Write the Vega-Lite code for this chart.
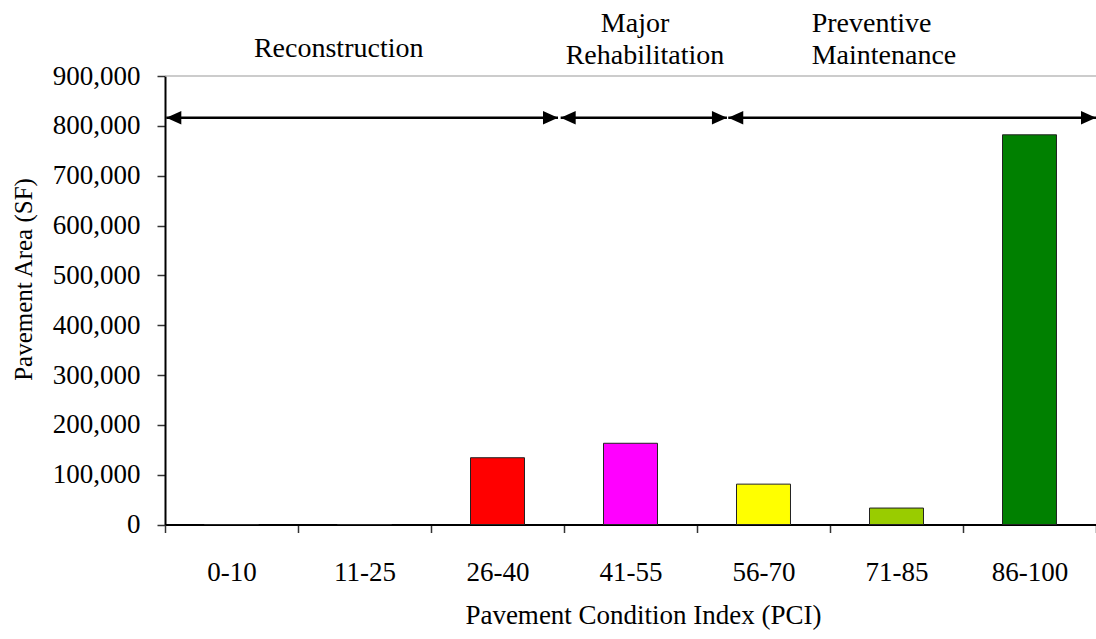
{
  "$schema": "https://vega.github.io/schema/vega-lite/v6.json",
  "width": 931,
  "height": 448.5,
  "autosize": {"type": "none"},
  "padding": {"left": 165, "top": 76, "right": 0, "bottom": 114.5},
  "background": "white",
  "config": {
    "view": {"stroke": null},
    "font": "Liberation Serif",
    "text": {"font": "Liberation Serif"}
  },
  "datasets": {
    "bars": [
      {"pci": "0-10", "area": 0},
      {"pci": "11-25", "area": 0},
      {"pci": "26-40", "area": 134000},
      {"pci": "41-55", "area": 163000},
      {"pci": "56-70", "area": 81000},
      {"pci": "71-85", "area": 33000},
      {"pci": "86-100", "area": 782000}
    ],
    "top": [{"v": 900000}],
    "arrows": [
      {"start": 0.01, "end": 2.955},
      {"start": 2.975, "end": 4.225},
      {"start": 4.235, "end": 7.0}
    ],
    "labelsCenter": [
      {"label": "Reconstruction", "u": 1.306, "v": 938000},
      {"label": "Major", "u": 3.534, "v": 989000},
      {"label": "Rehabilitation", "u": 3.609, "v": 923500}
    ],
    "labelsLeft": [
      {"label": "Preventive", "u": 4.862, "v": 989000},
      {"label": "Maintenance", "u": 4.862, "v": 923500}
    ]
  },
  "layer": [
    {
      "data": {"name": "bars"},
      "mark": {"type": "bar", "width": {"band": 0.406}, "stroke": "#222222", "strokeWidth": 1},
      "encoding": {
        "x": {
          "field": "pci", "type": "nominal", "sort": null,
          "scale": {"paddingInner": 0, "paddingOuter": 0},
          "axis": {
            "title": "Pavement Condition Index (PCI)",
            "labelAngle": 0,
            "labelFont": "Liberation Serif",
            "labelFontSize": 27,
            "labelColor": "black",
            "labelPadding": 27,
            "tickBand": "extent",
            "tickSize": 8,
            "tickColor": "#333333",
            "tickWidth": 1.5,
            "domainColor": "black",
            "domainWidth": 2,
            "grid": false,
            "titleFont": "Liberation Serif",
            "titleFontSize": 27,
            "titleFontWeight": "normal",
            "titleColor": "black",
            "titleX": 478,
            "titleY": 99,
            "titleBaseline": "alphabetic",
            "titleAlign": "center"
          }
        },
        "y": {
          "field": "area", "type": "quantitative",
          "scale": {"domain": [0, 900000], "nice": false},
          "axis": {
            "title": "Pavement Area (SF)",
            "values": [0, 100000, 200000, 300000, 400000, 500000, 600000, 700000, 800000, 900000],
            "format": ",.0f",
            "labelFont": "Liberation Serif",
            "labelFontSize": 27,
            "labelColor": "black",
            "labelPadding": 17,
            "tickSize": 8,
            "tickColor": "#333333",
            "tickWidth": 1.5,
            "domainColor": "black",
            "domainWidth": 2,
            "grid": false,
            "titleFont": "Liberation Serif",
            "titleFontSize": 25,
            "titleFontWeight": "normal",
            "titleColor": "black",
            "titleX": -134,
            "titleY": 203,
            "titleBaseline": "alphabetic",
            "titleAlign": "center",
            "titleAngle": -90
          }
        },
        "color": {
          "field": "pci", "type": "nominal",
          "scale": {
            "domain": ["0-10", "11-25", "26-40", "41-55", "56-70", "71-85", "86-100"],
            "range": ["#ffffff", "#ffffff", "#ff0000", "#ff00ff", "#ffff00", "#99cc00", "#008000"]
          },
          "legend": null
        }
      }
    },
    {
      "data": {"name": "top"},
      "mark": {"type": "rule", "color": "#999999", "strokeWidth": 1},
      "encoding": {
        "y": {"field": "v", "type": "quantitative", "scale": {"domain": [0, 900000], "nice": false}}
      }
    },
    {
      "data": {"name": "arrows"},
      "mark": {"type": "rule", "color": "black", "strokeWidth": 2.5},
      "encoding": {
        "x": {"field": "start", "type": "quantitative", "scale": {"domain": [0, 7], "nice": false, "zero": false}, "axis": null},
        "x2": {"field": "end"},
        "y": {"datum": 816000, "type": "quantitative", "scale": {"domain": [0, 900000], "nice": false}}
      }
    },
    {
      "data": {"name": "arrows"},
      "mark": {"type": "point", "shape": "M0,0L2,-0.9L2,0.9Z", "size": 225, "filled": true, "color": "black", "opacity": 1, "strokeWidth": 0},
      "encoding": {
        "x": {"field": "start", "type": "quantitative", "scale": {"domain": [0, 7], "nice": false, "zero": false}, "axis": null},
        "y": {"datum": 816000, "type": "quantitative", "scale": {"domain": [0, 900000], "nice": false}}
      }
    },
    {
      "data": {"name": "arrows"},
      "mark": {"type": "point", "shape": "M0,0L-2,-0.9L-2,0.9Z", "size": 225, "filled": true, "color": "black", "opacity": 1, "strokeWidth": 0},
      "encoding": {
        "x": {"field": "end", "type": "quantitative", "scale": {"domain": [0, 7], "nice": false, "zero": false}, "axis": null},
        "y": {"datum": 816000, "type": "quantitative", "scale": {"domain": [0, 900000], "nice": false}}
      }
    },
    {
      "data": {"name": "labelsCenter"},
      "mark": {"type": "text", "font": "Liberation Serif", "fontSize": 28, "align": "center", "baseline": "alphabetic", "color": "black"},
      "encoding": {
        "x": {"field": "u", "type": "quantitative", "scale": {"domain": [0, 7], "nice": false, "zero": false}, "axis": null},
        "y": {"field": "v", "type": "quantitative", "scale": {"domain": [0, 900000], "nice": false}},
        "text": {"field": "label"}
      }
    },
    {
      "data": {"name": "labelsLeft"},
      "mark": {"type": "text", "font": "Liberation Serif", "fontSize": 28, "align": "left", "baseline": "alphabetic", "color": "black"},
      "encoding": {
        "x": {"field": "u", "type": "quantitative", "scale": {"domain": [0, 7], "nice": false, "zero": false}, "axis": null},
        "y": {"field": "v", "type": "quantitative", "scale": {"domain": [0, 900000], "nice": false}},
        "text": {"field": "label"}
      }
    }
  ],
  "resolve": {"scale": {"x": "independent"}}
}
